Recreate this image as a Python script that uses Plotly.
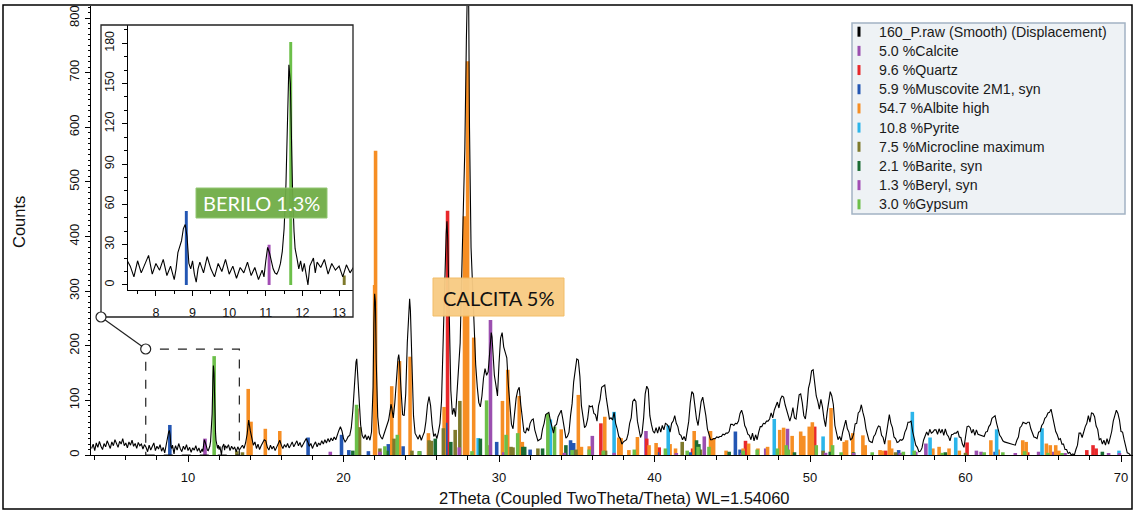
import plotly.graph_objects as go

# ---------------- raw pattern (2Theta, Counts) ----------------
raw_seg_a = [(3.8,12),(3.9,20),(4.0,8),(4.1,22),(4.2,14),(4.3,25),(4.4,16),(4.5,10),(4.6,21),(4.7,15),
             (4.8,26),(4.9,18),(5.0,12),(5.1,24),(5.2,17),(5.3,28),(5.4,19),(5.5,14),(5.6,25),(5.7,20),
             (5.8,30),(5.9,17),(6.0,22),(6.1,13),(6.2,24),(6.3,18),(6.4,27),(6.5,16),(6.6,21),(6.7,12),
             (6.8,23),(6.9,17),(7.0,20),(7.1,11),(7.2,19)]
raw_seg_b = [(7.3,14),(7.4,6),(7.5,18),(7.6,9),(7.7,15),(7.8,22),(7.9,8),(8.0,16),(8.1,11),(8.2,19),
             (8.3,7),(8.4,14),(8.5,4),(8.55,12),(8.6,24),(8.65,28),(8.7,33),(8.75,42),(8.8,45),(8.85,36),
             (8.9,16),(8.95,12),(9.0,18),(9.05,8),(9.1,2),(9.15,12),(9.2,17),(9.3,9),(9.4,21),(9.5,12),
             (9.6,6),(9.7,16),(9.8,10),(9.9,19),(10.0,8),(10.1,14),(10.2,5),(10.3,13),(10.4,9),(10.5,17),
             (10.6,7),(10.7,13),(10.8,4),(10.9,11),(10.95,6),(11.0,18),(11.05,28),(11.1,24),(11.15,17),
             (11.2,12),(11.25,9),(11.3,8),(11.35,11),(11.4,16),(11.45,25),(11.5,42),(11.55,75),(11.6,140),
             (11.63,164),(11.67,150),(11.7,95),(11.73,70),(11.77,40),(11.8,27),(11.85,20),(11.9,12),
             (11.95,18),(12.0,10),(12.05,16),(12.1,7),(12.15,0),(12.2,14),(12.3,20),(12.35,9),(12.4,17),
             (12.5,13),(12.6,19),(12.7,8),(12.8,16),(12.9,11),(13.0,14),(13.1,6),(13.2,15),(13.3,9),(13.4,13)]
raw_seg_c = [(13.5,18),(13.6,12),(13.7,22),(13.8,38),(13.9,64),(14.0,45),(14.1,28),(14.2,18),(14.3,24),(14.4,12),
             (14.5,20),(14.6,10),(14.7,17),(14.8,22),(14.9,28),(15.0,26),(15.1,14),(15.2,9),(15.3,18),(15.4,11),
             (15.5,16),(15.6,8),(15.7,15),(15.8,20),(15.9,27),(16.0,18),(16.1,12),(16.2,19),(16.3,14),(16.4,21),
             (16.5,13),(16.6,18),(16.7,24),(16.8,15),(16.9,20),(17.0,26),(17.1,17),(17.2,23),(17.3,14),(17.4,20),
             (17.5,27),(17.6,30),(17.7,24),(17.8,16),(17.9,21),(18.0,12),(18.1,19),(18.2,24),(18.3,15),(18.4,22),
             (18.5,18),(18.6,26),(18.7,20),(18.8,28),(18.9,22),(19.0,30),(19.1,24),(19.2,31),(19.3,26),(19.4,33),
             (19.5,28)]
raw_seg_d = [(19.6,38),(19.7,45),(19.8,52),(19.9,44),(20.0,30),(20.1,24),(20.2,28),(20.3,34),(20.4,36),(20.5,50),
             (20.6,82),(20.7,135),(20.8,170),(20.85,176),(20.9,150),(21.0,95),(21.1,55),(21.2,36),(21.3,30),
             (21.4,37),(21.5,28),(21.6,35),(21.7,27),(21.8,42),(21.9,125),(21.95,240),(22.0,295),(22.05,280),
             (22.1,175),(22.2,70),(22.3,40),(22.4,33),(22.5,29),(22.6,38),(22.7,46),(22.8,52),(22.9,64),
             (23.0,82),(23.05,93),(23.1,86),(23.2,68),(23.3,96),(23.4,142),(23.5,176),(23.55,184),(23.6,172),
             (23.7,118),(23.8,74),(23.9,72),(24.0,112),(24.1,205),(24.2,278),(24.25,286),(24.3,265),(24.4,175),
             (24.5,72),(24.6,40),(24.7,33),(24.8,29),(24.9,37),(25.0,27),(25.1,35),(25.2,42),(25.3,62),
             (25.4,92),(25.5,107),(25.6,90),(25.7,55),(25.8,34),(25.9,39),(26.0,30),(26.1,42),(26.2,58),
             (26.3,98),(26.4,185),(26.5,305),(26.6,405),(26.65,428),(26.7,395),(26.8,245),(26.9,118),
             (27.0,74),(27.1,86),(27.2,70),(27.3,112),(27.4,150),(27.5,205),(27.6,330),(27.7,432),(27.8,560),
             (27.9,760),(27.95,880),(28.0,905),(28.05,820),(28.1,600),(28.2,380),(28.3,305),(28.4,240),
             (28.5,165),(28.6,125),(28.7,96),(28.8,88),(28.9,108),(29.0,140),(29.1,158),(29.2,146),(29.3,152),
             (29.4,188),(29.5,224),(29.55,216),(29.6,182),(29.7,146),(29.8,128),(29.9,108),(30.0,168),
             (30.1,214),(30.2,224),(30.3,198),(30.4,188),(30.5,178),(30.6,128),(30.7,88),(30.8,56),(30.9,48),
             (31.0,80),(31.1,104),(31.2,118),(31.3,124),(31.4,92),(31.5,60),(31.6,43),(31.7,40)]
raw_seg_e = [(31.8,50),(31.9,44),(32.0,58),(32.1,64),(32.2,66),(32.3,46),(32.4,36),(32.5,26),(32.6,28),(32.7,30),
             (32.8,48),(32.9,58),(33.0,74),(33.1,76),(33.2,78),(33.3,64),(33.4,52),(33.5,40),(33.6,54),(33.7,56),
             (33.8,70),(33.9,76),(34.0,82),(34.1,66),(34.2,48),(34.3,31),(34.4,34),(34.5,42),(34.6,72),(34.7,94),
             (34.8,134),(34.9,154),(35.0,176),(35.1,174),(35.2,144),(35.3,90),(35.4,68),(35.5,50),(35.6,54),
             (35.7,66),(35.8,90),(35.9,88),(36.0,90),(36.1,76),(36.2,74),(36.3,62),(36.4,90),(36.5,102),
             (36.6,124),(36.7,126),(36.8,128),(36.9,104),(37.0,84),(37.1,66),(37.2,68),(37.3,64),(37.4,78),
             (37.5,58),(37.6,48),(37.7,34),(37.8,30),(37.9,20),(38.0,24),(38.1,26),(38.2,28),(38.3,38),
             (38.4,58),(38.5,68),(38.6,98),(38.7,102),(38.8,98),(38.9,62),(39.0,46),(39.1,32),(39.2,40),
             (39.3,68),(39.4,112),(39.5,126),(39.6,120),(39.7,72),(39.8,56),(39.9,44)]
raw_seg_f = [(40.0,40),(40.1,50),(40.2,40),(40.3,52),(40.4,42),(40.5,54),(40.6,46),(40.7,58),(40.8,56),(40.9,52),
             (41.0,42),(41.1,58),(41.2,62),(41.3,72),(41.4,58),(41.5,52),(41.6,38),(41.7,36),(41.8,28),(41.9,34),
             (42.0,26),(42.1,42),(42.2,62),(42.3,96),(42.4,116),(42.5,112),(42.6,84),(42.7,66),(42.8,54),(42.9,78),
             (43.0,98),(43.1,106),(43.2,92),(43.3,72),(43.4,48),(43.5,38),(43.6,28),(43.7,28),(43.8,30),(43.9,30),
             (44.0,33),(44.1,32),(44.2,34),(44.3,34),(44.4,38),(44.5,37),(44.6,40),(44.7,40),(44.8,43),(44.9,56),
             (45.0,56),(45.1,54),(45.2,58),(45.3,57),(45.4,62),(45.5,76),(45.6,82),(45.7,72),(45.8,54),(45.9,48),
             (46.0,38),(46.1,36),(46.2,28),(46.3,40),(46.4,26),(46.5,37),(46.6,28),(46.7,42),(46.8,52),(46.9,52),
             (47.0,58),(47.1,57),(47.2,62),(47.3,62),(47.4,66),(47.5,77),(47.6,68),(47.7,82),(47.8,88),(47.9,97),
             (48.0,86),(48.1,102),(48.2,108),(48.3,106),(48.4,92),(48.5,82),(48.6,68),(48.7,62),(48.8,72),(48.9,87),
             (49.0,68),(49.1,66),(49.2,88),(49.3,110),(49.4,112),(49.5,96),(49.6,72),(49.7,66),(49.8,88),(49.9,122)]
raw_seg_g = [(50.0,134),(50.1,154),(50.2,156),(50.3,132),(50.4,108),(50.5,98),(50.6,84),(50.7,102),(50.8,88),(50.9,66),
             (51.0,52),(51.1,78),(51.2,98),(51.3,116),(51.4,108),(51.5,92),(51.6,54),(51.7,38),(51.8,28),(51.9,34),
             (52.0,26),(52.1,42),(52.2,53),(52.3,64),(52.4,48),(52.5,42),(52.6,28),(52.7,30),(52.8,38),(52.9,57),
             (53.0,58),(53.1,77),(53.2,80),(53.3,92),(53.4,78),(53.5,67),(53.6,48),(53.7,37),(53.8,26),(53.9,24),
             (54.0,23),(54.1,34),(54.2,38),(54.3,47),(54.4,53),(54.5,52),(54.6,36),(54.7,32),(54.8,20),(54.9,37),
             (55.0,58),(55.1,74),(55.2,58),(55.3,50),(55.4,33),(55.5,30),(55.6,23),(55.7,24),(55.8,28),(55.9,27),
             (56.0,30),(56.1,42),(56.2,48),(56.3,60),(56.4,60),(56.5,62),(56.6,43),(56.7,32),(56.8,18),(56.9,14),
             (57.0,6),(57.1,7),(57.2,13),(57.3,27),(57.4,33),(57.5,42),(57.6,36),(57.7,47),(57.8,40),(57.9,42),
             (58.0,46),(58.1,46),(58.2,38),(58.3,48),(58.4,40),(58.5,47),(58.6,36),(58.7,48),(58.8,38),(58.9,34),
             (59.0,26),(59.1,37),(59.2,38),(59.3,40),(59.4,40),(59.5,44),(59.6,33),(59.7,32),(59.8,20),(59.9,14)]
raw_seg_h = [(60.0,33),(60.1,52),(60.2,53),(60.3,50),(60.4,40),(60.5,47),(60.6,36),(60.7,46),(60.8,38),(60.9,37),
             (61.0,36),(61.1,34),(61.2,34),(61.3,42),(61.4,43),(61.5,52),(61.6,56),(61.7,67),(61.8,70),(61.9,72),
             (62.0,58),(62.1,47),(62.2,36),(62.3,32),(62.4,26),(62.5,24),(62.6,23),(62.7,22),(62.8,22),(62.9,20),
             (63.0,20),(63.1,18),(63.2,18),(63.3,27),(63.4,33),(63.5,50),(63.6,53),(63.7,60),(63.8,58),(63.9,57),
             (64.0,60),(64.1,60),(64.2,48),(64.3,42),(64.4,33),(64.5,32),(64.6,30),(64.7,42),(64.8,43),(64.9,54),
             (65.0,58),(65.1,67),(65.2,70),(65.3,77),(65.4,78),(65.5,84),(65.6,68),(65.7,57),(65.8,43),(65.9,37),
             (66.0,28),(66.1,30),(66.2,20),(66.3,20),(66.4,10),(66.5,10),(66.6,3),(66.7,5),(66.8,0),(66.9,2),
             (67.0,0),(67.1,10),(67.2,18),(67.3,40),(67.4,40),(67.5,32),(67.6,43),(67.7,52),(67.8,58),(67.9,72),
             (68.0,60),(68.1,77),(68.2,76),(68.3,70),(68.4,53),(68.5,47),(68.6,28),(68.7,30),(68.8,20),(68.9,27),
             (69.0,18),(69.1,30),(69.2,20),(69.3,32),(69.4,43),(69.5,62),(69.6,70),(69.7,82),(69.8,76),(69.9,64),
             (70.0,43),(70.1,42),(70.2,28),(70.3,14),(70.4,4),(70.5,3),(70.6,0)]

raw_segments = [raw_seg_a, raw_seg_b, raw_seg_c, raw_seg_d, raw_seg_e, raw_seg_f, raw_seg_g, raw_seg_h]
two_theta = [p[0] for s in raw_segments for p in s]
counts = [p[1] for s in raw_segments for p in s]

# ---------------- phase reference sticks ----------------
calcite_pos = [23.05, 29.45, 31.45, 36.0, 39.45, 43.2, 47.15, 48.55, 57.45, 60.7, 61.0, 64.7, 65.6, 69.2]
calcite_int = [12, 247, 10, 35, 44, 34, 12, 48, 21, 8, 6, 6, 6, 3]

quartz_pos = [20.86, 26.69, 36.55, 39.5, 40.3, 42.45, 45.85, 50.3, 54.87, 60.1, 64.0, 67.8, 68.2, 68.4]
quartz_int = [85, 447, 58, 30, 14, 12, 26, 52, 8, 23, 5, 9, 18, 12]

muscovite_pos = [8.83, 17.72, 19.87, 20.34, 21.6, 22.88, 23.83, 26.58, 29.85, 31.4, 32.0, 34.6, 34.8,
                 40.2, 42.3, 45.2, 45.5, 55.7, 61.9]
muscovite_int = [55, 32, 37, 9, 7, 20, 16, 59, 24, 15, 10, 27, 22, 5, 5, 43, 10, 9, 6]

albite_pos = [13.87, 14.05, 14.97, 15.9, 22.0, 22.06, 23.1, 23.6, 24.28, 25.46, 26.47, 27.78, 27.98, 28.37,
              30.22, 30.56, 31.3, 31.5, 34.0, 35.1, 35.3, 35.8, 36.8, 37.7, 37.85, 38.35, 38.9, 39.65,
              40.1, 41.0, 41.35, 42.55, 43.6, 43.8, 44.6, 45.7, 46.05, 46.65, 47.27, 48.05, 48.3, 48.85,
              49.4, 49.6, 49.95, 50.15, 51.35, 52.2, 52.35, 52.75, 53.4, 53.55, 54.5, 54.65, 55.1, 55.25,
              57.9, 58.3, 58.94, 59.6, 61.63, 62.1, 63.68, 63.9, 65.2, 65.45, 65.8, 66.0]
albite_int = [121, 61, 48, 44, 311, 557, 126, 172, 180, 40, 88, 437, 721, 215,
              99, 156, 108, 24, 47, 110, 15, 16, 70, 32, 31, 9, 33, 18,
              22, 20, 12, 44, 44, 31, 8, 12, 21, 12, 15, 46, 50, 35,
              43, 35, 52, 60, 86, 24, 27, 40, 36, 18, 9, 8, 27, 12,
              12, 15, 12, 8, 27, 10, 27, 24, 21, 18, 18, 8]

pyrite_pos = [28.66, 33.3, 37.4, 40.88, 47.7, 50.84, 56.58, 57.72, 59.37, 62.0, 64.92, 69.87]
pyrite_int = [31, 65, 79, 54, 66, 34, 79, 32, 32, 47, 49, 8]

microcline_pos = [13.14, 13.5, 21.03, 22.34, 23.25, 24.4, 25.5, 25.65, 26.42, 27.18, 27.48, 29.22, 30.77,
                  30.9, 32.5, 34.95, 36.85, 41.78, 42.95, 50.84, 55.5, 60.0]
microcline_int = [7, 5, 51, 12, 30, 8, 27, 26, 49, 46, 99, 18, 15, 14, 12, 10, 8, 24, 10, 8, 5, 4]

barite_pos = [20.6, 22.8, 24.9, 25.9, 26.9, 28.8, 31.53, 31.65, 32.8, 34.3, 42.7, 42.85, 44.8, 49.0,
              51.3, 52.8, 58.7, 68.8]
barite_int = [8, 8, 7, 30, 24, 30, 15, 15, 12, 18, 27, 20, 6, 5, 6, 5, 5, 6]

beryl_pos = [11.09, 19.15, 22.34, 27.44, 30.3, 34.2, 37.4, 41.4, 45.6, 51.0, 52.8, 55.8, 56.8, 63.2, 66.4, 69.9]
beryl_int = [30, 6, 6, 14, 5, 4, 4, 3, 3, 4, 3, 3, 6, 3, 3, 3]

gypsum_pos = [11.68, 20.84, 22.66, 23.46, 24.86, 28.26, 29.2, 30.45, 31.2, 33.14, 33.57, 34.7, 35.8, 36.7,
              38.7, 40.7, 42.1, 42.8, 43.5, 45.7, 46.6, 47.9, 48.47, 48.6, 50.4, 51.45, 52.0, 54.0,
              56.0, 56.7, 58.5, 61.2, 62.4, 63.8, 65.3, 66.2]
gypsum_int = [181, 92, 16, 37, 7, 7, 100, 37, 40, 76, 52, 9, 10, 8,
              10, 12, 8, 15, 15, 8, 10, 12, 18, 10, 18, 18, 5, 5,
              6, 8, 4, 5, 5, 7, 4, 3]

raw_label = "160_P.raw (Smooth) (Displacement)"
phase_labels = ["5.0 %Calcite", "9.6 %Quartz", "5.9 %Muscovite 2M1, syn", "54.7 %Albite high",
                "10.8 %Pyrite", "7.5 %Microcline maximum", "2.1 %Barite, syn", "1.3 %Beryl, syn",
                "3.0 %Gypsum"]
phase_colors = ["#9B4FAF", "#E8282B", "#2356B3", "#F68E24", "#2CB5EA", "#7E7A2C", "#1B6B33",
                "#A24DB4", "#6CBF49"]
phase_pos = [calcite_pos, quartz_pos, muscovite_pos, albite_pos, pyrite_pos, microcline_pos,
             barite_pos, beryl_pos, gypsum_pos]
phase_int = [calcite_int, quartz_int, muscovite_int, albite_int, pyrite_int, microcline_int,
             barite_int, beryl_int, gypsum_int]

for p, i in zip(phase_pos, phase_int):
    assert len(p) == len(i)

INSET_X = [7.23, 13.38]
INSET_Y = [-3.4, 193.6]

fig = go.Figure()

# main sticks
for lab, col, p, i in zip(phase_labels, phase_colors, phase_pos, phase_int):
    fig.add_trace(go.Bar(x=p, y=i, width=0.23, name=lab,
                         marker=dict(color=col, line=dict(width=0)),
                         showlegend=False, xaxis="x", yaxis="y"))
fig.add_trace(go.Scatter(x=two_theta, y=counts, mode="lines", name=raw_label,
                         line=dict(color="black", width=1.1), showlegend=False,
                         xaxis="x", yaxis="y"))

# inset sticks + raw
for lab, col, p, i in zip(phase_labels, phase_colors, phase_pos, phase_int):
    sel = [(a, b) for a, b in zip(p, i) if INSET_X[0] <= a <= INSET_X[1]]
    if sel:
        fig.add_trace(go.Bar(x=[s[0] for s in sel], y=[s[1] for s in sel], width=0.08,
                             marker=dict(color=col, line=dict(width=0)),
                             showlegend=False, xaxis="x2", yaxis="y2"))
ins = [(a, b) for a, b in zip(two_theta, counts) if 7.0 <= a <= 13.6]
fig.add_trace(go.Scatter(x=[s[0] for s in ins], y=[s[1] for s in ins], mode="lines",
                         line=dict(color="black", width=1.1), showlegend=False,
                         xaxis="x2", yaxis="y2"))

FONT = "Liberation Sans, Arial, sans-serif"
W, H = 1135, 514
L, R, T, B = 91, 2, 6, 59
PW, PH = W - L - R, H - T - B


def px(x):
    return (x - L) / PW


def py(y):
    return (H - B - y) / PH


axis_common = dict(showline=True, linecolor="black", linewidth=1, ticks="outside",
                   tickcolor="black", tickwidth=1, showgrid=False, zeroline=False)

fig.update_layout(
    width=W, height=H,
    margin=dict(l=L, r=R, t=T, b=B, autoexpand=False),
    paper_bgcolor="white", plot_bgcolor="white",
    barmode="overlay", showlegend=False,
    font=dict(family=FONT, color="#111111"),
    xaxis=dict(range=[3.76, 70.77], tick0=0, dtick=10, ticklen=6,
               minor=dict(ticks="outside", tick0=0, dtick=2, ticklen=4, tickcolor="black"),
               tickfont=dict(size=13, family=FONT, color="#111111"), ticklabelstandoff=4,
               **axis_common),
    yaxis=dict(range=[0, 822], tick0=0, dtick=100, ticklen=5, tickangle=-90,
               minor=dict(ticks="outside", tick0=0, dtick=10, ticklen=2.5, tickcolor="black"),
               tickfont=dict(size=13, family=FONT, color="#111111"), ticklabelstandoff=1,
               **axis_common),
    xaxis2=dict(domain=[px(127.7), px(353)], anchor="y2", range=INSET_X, tick0=0, dtick=1,
                ticklen=5,
                minor=dict(ticks="outside", tick0=0, dtick=0.5, ticklen=3, tickcolor="black"),
                tickfont=dict(size=12.5, family=FONT, color="#111111"), ticklabelstandoff=6,
                **axis_common),
    yaxis2=dict(domain=[py(289.5), py(25)], anchor="x2", range=INSET_Y, tick0=0, dtick=30,
                ticklen=5, tickangle=-90,
                minor=dict(ticks="outside", tick0=0, dtick=10, ticklen=3, tickcolor="black"),
                tickfont=dict(size=12.5, family=FONT, color="#111111"), ticklabelstandoff=3,
                **axis_common),
)

shapes = []
annotations = []

# outer frame
shapes.append(dict(type="rect", xref="paper", yref="paper", x0=px(3), x1=px(1132), y0=py(509), y1=py(5),
                   line=dict(color="black", width=1.5), fillcolor="rgba(0,0,0,0)", layer="above"))
# inset frame
shapes.append(dict(type="rect", xref="paper", yref="paper", x0=px(101), x1=px(353), y0=py(317), y1=py(25),
                   line=dict(color="#222222", width=1.3), fillcolor="rgba(0,0,0,0)", layer="above"))
# dashed zoom box in main plot
shapes.append(dict(type="rect", xref="x", yref="y", x0=7.28, x1=13.3, y0=0, y1=194,
                   line=dict(color="#222222", width=1.2, dash="dash"), layer="above"))
# connector
shapes.append(dict(type="line", xref="paper", yref="paper", x0=px(101), y0=py(317), x1=px(145.7), y1=py(349),
                   line=dict(color="#222222", width=1.2), layer="above"))
for cx, cy in [(101, 317), (145.7, 349)]:
    shapes.append(dict(type="circle", xref="paper", yref="paper", xsizemode="pixel", ysizemode="pixel",
                       xanchor=px(cx), yanchor=py(cy), x0=-5, x1=5, y0=-5, y1=5,
                       line=dict(color="#222222", width=1.2), fillcolor="white", layer="above"))

# BERILO label
shapes.append(dict(type="rect", xref="paper", yref="paper", x0=px(196), x1=px(327), y0=py(218), y1=py(188),
                   line=dict(color="#8DC46C", width=1), fillcolor="#70AD47", opacity=0.95, layer="above"))
annotations.append(dict(xref="paper", yref="paper", x=px(261.5), y=py(203.5), text="BERILO 1.3%",
                        showarrow=False, xanchor="center", yanchor="middle",
                        font=dict(family="Lato, Open Sans, sans-serif", size=20, color="white")))
# CALCITA label
shapes.append(dict(type="rect", xref="paper", yref="paper", x0=px(433), x1=px(564), y0=py(316), y1=py(278),
                   line=dict(color="#F2BB62", width=1), fillcolor="#F8CB84", opacity=0.96, layer="above"))
annotations.append(dict(xref="paper", yref="paper", x=px(498.5), y=py(297.5), text="CALCITA 5%",
                        showarrow=False, xanchor="center", yanchor="middle",
                        font=dict(family="Lato, Open Sans, sans-serif", size=20, color="#111111")))

# legend box
shapes.append(dict(type="rect", xref="paper", yref="paper", x0=px(852), x1=px(1125), y0=py(214), y1=py(23),
                   line=dict(color="#A3B3C3", width=1.5), fillcolor="#EEF2F5", layer="above"))
legend_labels = [raw_label] + phase_labels
legend_colors = ["black"] + phase_colors
for k, (lab, col) in enumerate(zip(legend_labels, legend_colors)):
    yc = 31.7 + k * 19.18
    shapes.append(dict(type="rect", xref="paper", yref="paper", x0=px(857.5), x1=px(860.5),
                       y0=py(yc + 5), y1=py(yc - 5), line=dict(width=0), fillcolor=col, layer="above"))
    annotations.append(dict(xref="paper", yref="paper", x=px(877), y=py(yc), text=lab, showarrow=False,
                            xanchor="left", yanchor="middle",
                            font=dict(family=FONT, size=14.2, color="#1a1a1a")))

# axis titles
annotations.append(dict(xref="paper", yref="paper", x=px(19), y=py(222), text="Counts", textangle=-90,
                        showarrow=False, xanchor="center", yanchor="middle",
                        font=dict(family=FONT, size=16.5, color="#111111")))
annotations.append(dict(xref="paper", yref="paper", x=px(614), y=py(498),
                        text="2Theta (Coupled TwoTheta/Theta) WL=1.54060",
                        showarrow=False, xanchor="center", yanchor="middle",
                        font=dict(family=FONT, size=16.5, color="#111111")))

fig.update_layout(shapes=shapes, annotations=annotations)
fig.write_html("out.html")
